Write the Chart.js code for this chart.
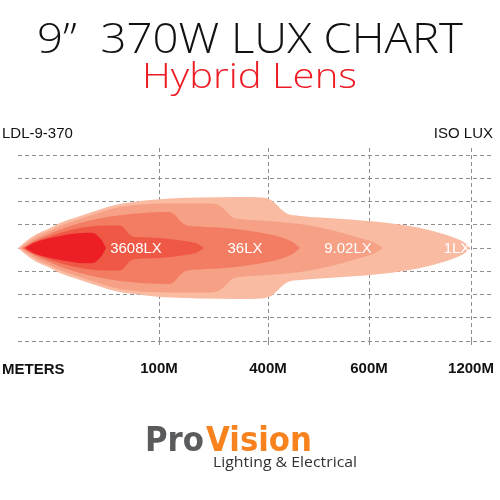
<!DOCTYPE html>
<html><head><meta charset="utf-8">
<script src="https://cdn.jsdelivr.net/npm/chart.js@4.4.1/dist/chart.umd.min.js"></script>
<style>html,body{margin:0;padding:0;background:#fff}</style>
</head><body>
<canvas id="c" width="500" height="500"></canvas>
<script>
// ---------- texts ----------
const titleText = '9\u201D  370W LUX CHART';
const subtitleText = 'Hybrid Lens';
const modelText = 'LDL-9-370';
const unitText = 'ISO LUX';
const axisTitle = 'METERS';
const brandA = 'Pro';
const brandB = 'Vision';
const brandTag = 'Lighting & Electrical';

// ---------- distance axis (chart units along the beam) ----------
const tickValues = [141, 250, 351, 453];
const tickLabels = ['100M', '400M', '600M', '1200M'];

// ---------- iso-lux contours: distance vs half-width (grid units) ----------
const lux1X = [0,7,17,30,42,62,77,97,112,132,152,182,222,244,252,258,264,270,282,302,332,362,382,402,422,437,447,452];
const lux1Y = [0,.26,.56,.82,1.08,1.38,1.59,1.85,1.96,2.06,2.13,2.17,2.19,2.17,2.09,1.89,1.63,1.46,1.38,1.31,1.23,1.12,1.01,.86,.65,.43,.22,0];

const lux9X = [2,9,18,30,42,62,77,97,112,132,152,194,202,208,214,222,242,262,282,302,317,332,347,357,365];
const lux9Y = [0,.22,.47,.71,.95,1.25,1.46,1.72,1.83,1.89,1.91,1.91,1.81,1.59,1.33,1.25,1.18,1.12,1.03,.88,.73,.56,.37,.22,0];

const lux36X = [4,12,22,37,52,72,92,112,132,150,156,162,168,182,207,232,252,267,276,282];
const lux36Y = [0,.22,.43,.71,.95,1.18,1.35,1.46,1.53,1.55,1.46,1.16,.99,.92,.86,.73,.58,.41,.22,0];

const luxHighX = [6,14,27,42,57,72,87,102,107,112,118,132,152,167,179,186];
const luxHighY = [0,.22,.43,.65,.82,.92,.97,.97,.82,.56,.47,.45,.39,.30,.19,0];

const luxCoreX = [7,15,27,42,57,70,77,81,84,88];
const luxCoreY = [0,.2,.38,.52,.62,.66,.62,.46,.32,0];

const contourX = [lux1X, lux9X, lux36X, luxHighX, luxCoreX];
const contourY = [lux1Y, lux9Y, lux36Y, luxHighY, luxCoreY];
const contourColors = ['#F9BBA2', '#F6A086', '#F27D63', '#EF5845', '#EC1F27'];

// ---------- labels inside the beam ----------
const luxLabels = ['3608LX', '36LX', '9.02LX', '1LX'];
const luxLabelX = [118, 227, 330, 439];

// ---------- build datasets ----------
const datasets = [];
contourX.forEach((xs, i) => {
  const ys = contourY[i];
  const ord = contourX.length - i;
  datasets.push({
    data: xs.map((x, j) => ({x: x, y: ys[j]})),
    fill: '+1', backgroundColor: contourColors[i],
    borderColor: 'rgba(0,0,0,0)', borderWidth: 0, pointRadius: 0,
    cubicInterpolationMode: 'monotone', order: ord
  });
  datasets.push({
    data: xs.map((x, j) => ({x: x, y: -ys[j]})),
    fill: false, borderColor: 'rgba(0,0,0,0)', borderWidth: 0, pointRadius: 0,
    cubicInterpolationMode: 'monotone', order: ord
  });
});

const gridColor = '#8e8e8e';
const dash = [4, 3];

function fitText(ctx, text, font, color, left, right, baseline) {
  ctx.save();
  ctx.font = font;
  ctx.fillStyle = color;
  ctx.textAlign = 'left';
  ctx.textBaseline = 'alphabetic';
  const w = ctx.measureText(text).width;
  ctx.translate(left, baseline);
  ctx.scale((right - left) / w, 1);
  ctx.fillText(text, 0, 0);
  ctx.restore();
}

const textPlugin = {
  id: 'texts',
  afterDatasetsDraw(chart) {
    const ctx = chart.ctx;
    const xs = chart.scales.x, ys = chart.scales.y;
    ctx.save();
    ctx.font = '15px "Liberation Sans", Arial, sans-serif';
    ctx.fillStyle = '#ffffff';
    ctx.textAlign = 'center';
    ctx.textBaseline = 'middle';
    luxLabels.forEach((t, i) => {
      ctx.fillText(t, xs.getPixelForValue(luxLabelX[i]), ys.getPixelForValue(0) + 1);
    });
    ctx.restore();
  },
  afterDraw(chart) {
    const ctx = chart.ctx;
    fitText(ctx, titleText, '300 43px "Open Sans", "Noto Sans", sans-serif', '#111111', 37, 463, 53);
    fitText(ctx, subtitleText, '300 35px "Open Sans", "Noto Sans", sans-serif', '#EE1C25', 142, 357, 88);
    ctx.save();
    ctx.font = '15px "Liberation Sans", Arial, sans-serif';
    ctx.fillStyle = '#111111';
    ctx.textBaseline = 'alphabetic';
    ctx.textAlign = 'left';
    ctx.fillText(modelText, 2, 138);
    ctx.textAlign = 'right';
    ctx.fillText(unitText, 493, 138);
    ctx.font = 'bold 15px "Liberation Sans", Arial, sans-serif';
    ctx.textAlign = 'left';
    ctx.fillText(axisTitle, 2, 374);
    ctx.restore();
    fitText(ctx, brandA, 'bold 33px "DejaVu Sans", sans-serif', '#5A5B5D', 145, 204, 451);
    fitText(ctx, brandB, 'bold 33px "DejaVu Sans", sans-serif', '#F7821E', 206, 312, 451);
    fitText(ctx, brandTag, '400 15px "Open Sans", "Noto Sans", sans-serif', '#333333', 213, 357, 467);
  }
};

const noSidePad = s => { s.paddingLeft = 0; s.paddingRight = 0; };

new Chart(document.getElementById('c'), {
  type: 'line',
  data: {datasets: datasets},
  plugins: [textPlugin],
  options: {
    responsive: false, animation: false, devicePixelRatio: 1,
    layout: {padding: {left: 0, right: 7, top: 0, bottom: 0}},
    plugins: {legend: {display: false}, tooltip: {enabled: false}},
    elements: {line: {tension: 0.3}},
    scales: {
      x: {
        type: 'linear', position: 'bottom', min: 0, max: 475,
        afterBuildTicks: s => { s.ticks = tickValues.map(v => ({value: v})); },
        afterFit: s => { s.height = 159; noSidePad(s); },
        ticks: {
          callback: (v, i) => tickLabels[i], autoSkip: false, maxRotation: 0,
          color: '#111111', padding: 12,
          font: {family: '"Liberation Sans", Arial, sans-serif', size: 15, weight: 'bold'}
        },
        grid: {color: gridColor, lineWidth: 1, tickLength: 7, tickBorderDash: dash, tickColor: gridColor},
        border: {display: false, dash: dash}
      },
      x2: {
        type: 'linear', position: 'top', min: 0, max: 475,
        afterBuildTicks: s => { s.ticks = tickValues.map(v => ({value: v})); },
        afterFit: s => { s.height = 155; noSidePad(s); },
        ticks: {display: false},
        grid: {drawOnChartArea: false, color: gridColor, tickLength: 7, tickBorderDash: dash, tickColor: gridColor},
        border: {display: false}
      },
      y: {
        type: 'linear', min: -4, max: 4,
        afterFit: s => { s.width = 18; s.paddingTop = 0; s.paddingBottom = 0; },
        ticks: {display: false, stepSize: 1},
        grid: {color: gridColor, lineWidth: 1, drawTicks: false},
        border: {display: false, dash: dash}
      }
    }
  }
});
</script>
</body></html>
